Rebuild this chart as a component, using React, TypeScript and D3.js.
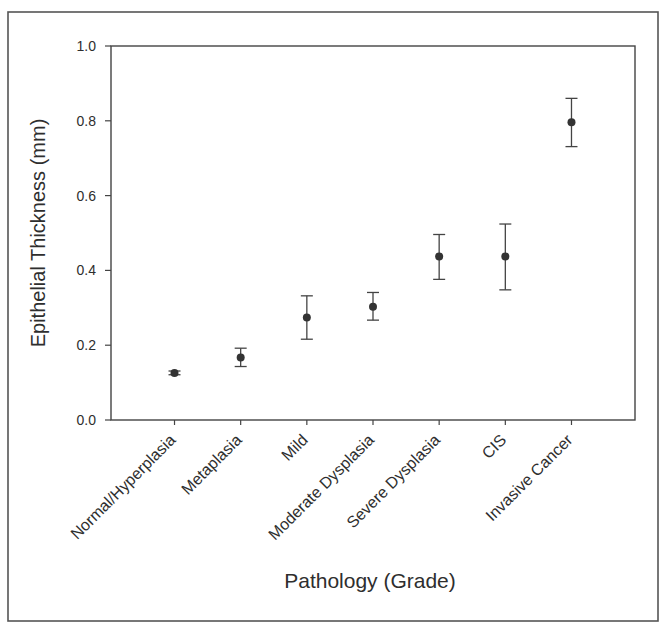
import React from "react";
import * as d3 from "d3";

const categories = [
  "Normal/Hyperplasia",
  "Metaplasia",
  "Mild",
  "Moderate Dysplasia",
  "Severe Dysplasia",
  "CIS",
  "Invasive Cancer",
];
const means = [0.126, 0.167, 0.274, 0.303, 0.437, 0.437, 0.796];
const upper = [0.131, 0.192, 0.332, 0.341, 0.496, 0.524, 0.86];
const lower = [0.121, 0.143, 0.216, 0.267, 0.376, 0.348, 0.731];
const yTicks = [0, 0.2, 0.4, 0.6, 0.8, 1.0];

const W = 660;
const H = 626;
const FONT = "'Liberation Sans', Arial, Helvetica, sans-serif";
const INK = "#2e2e2e";

export default function App() {
  const x = d3.scalePoint<string>().domain(categories).range([111, 635]).padding(0.96);
  const y = d3.scaleLinear().domain([0, 1]).range([420, 46]);
  const x0 = 111, x1 = 635, yTop = y(1), yBot = y(0);
  const cap = 6;

  return (
    <svg
      width={W}
      height={H}
      style={{ position: "absolute", left: 0, top: 0, background: "#fff" }}
      fontFamily={FONT}
    >
      {/* outer frame */}
      <rect x={8} y={12} width={650} height={609} fill="none" stroke="#555" strokeWidth={1.6} />

      {/* plot box */}
      <rect x={x0} y={yTop} width={x1 - x0} height={yBot - yTop} fill="none" stroke="#444" strokeWidth={1.4} />

      {/* y ticks */}
      {yTicks.map((t) => (
        <g key={t}>
          <line x1={x0 - 6} x2={x0} y1={y(t)} y2={y(t)} stroke="#444" strokeWidth={1.2} />
          <text x={x0 - 15} y={y(t)} dy="0.35em" textAnchor="end" fontSize={14} fill={INK}>
            {d3.format(".1f")(t)}
          </text>
        </g>
      ))}

      {/* x ticks and labels */}
      {categories.map((c) => {
        const cx = x(c) as number;
        return (
          <g key={c}>
            <line x1={cx} x2={cx} y1={yBot} y2={yBot + 5} stroke="#444" strokeWidth={1.2} />
            <text
              transform={`translate(${cx + 2},${yBot + 21}) rotate(-45)`}
              textAnchor="end"
              fontSize={16}
              fill={INK}
            >
              {c}
            </text>
          </g>
        );
      })}

      {/* error bars and points */}
      {categories.map((c, i) => {
        const cx = x(c) as number;
        return (
          <g key={"p" + c}>
            <line x1={cx} x2={cx} y1={y(upper[i])} y2={y(lower[i])} stroke="#444" strokeWidth={1.3} />
            <line x1={cx - cap} x2={cx + cap} y1={y(upper[i])} y2={y(upper[i])} stroke="#444" strokeWidth={1.3} />
            <line x1={cx - cap} x2={cx + cap} y1={y(lower[i])} y2={y(lower[i])} stroke="#444" strokeWidth={1.3} />
            <circle cx={cx} cy={y(means[i])} r={4} fill="#333" />
          </g>
        );
      })}

      {/* axis titles */}
      <text
        transform={`translate(45,${(yTop + yBot) / 2}) rotate(-90)`}
        textAnchor="middle"
        fontSize={20}
        fill={INK}
      >
        Epithelial Thickness (mm)
      </text>
      <text x={370} y={588} textAnchor="middle" fontSize={21} fill={INK}>
        Pathology (Grade)
      </text>
    </svg>
  );
}
